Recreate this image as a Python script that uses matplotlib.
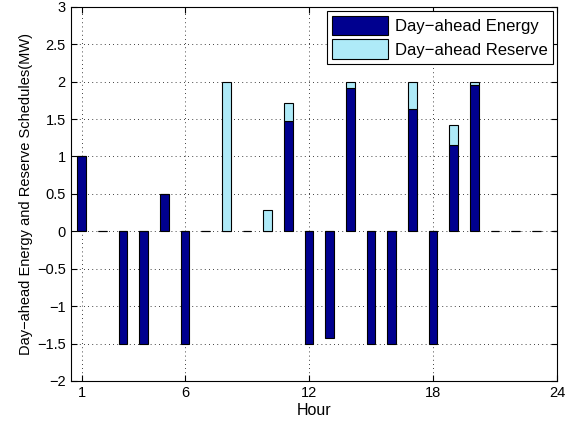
import numpy as np
from matplotlib import pyplot as plt

plt.rcParams['font.family'] = ['Liberation Sans', 'DejaVu Sans']

hours = np.arange(1, 25)
energy = [1.0, 0, -1.5, -1.5, 0.5, -1.5, 0, 0, 0, 0, 1.47, -1.5,
          -1.42, 1.91, -1.5, -1.5, 1.64, -1.5, 1.16, 1.95, 0, 0, 0, 0]
reserve = [0, 0, 0, 0, 0, 0, 0, 2.0, 0, 0.29, 0.24, 0,
           0, 0.09, 0, 0, 0.36, 0, 0.26, 0.05, 0, 0, 0, 0]
xticks = [1, 6, 12, 18, 24]

energy = np.array(energy)
reserve = np.array(reserve)
# reserve is stacked on top of positive energy
base = np.where(energy > 0, energy, 0)

fig = plt.figure(figsize=(5.76, 4.28), dpi=100)
ax = fig.add_axes([0.124, 0.110, 0.843, 0.874])

ax.bar(hours, energy, width=0.42, color='#00008F', edgecolor='black', linewidth=0.8,
       label='Day\u2212ahead Energy', zorder=3)
ax.bar(hours, reserve, width=0.42, bottom=base, color='#AEEAF8', edgecolor='black',
       linewidth=0.8, label='Day\u2212ahead Reserve', zorder=3)

ax.set_xlim(0.5, 24)
ax.set_ylim(-2, 3)
ax.set_xticks(xticks)
ax.set_yticks(np.arange(-2, 3.01, 0.5))
ax.set_yticklabels(['\u22122', '\u22121.5', '\u22121', '\u22120.5', '0', '0.5', '1', '1.5', '2', '2.5', '3'])
ax.tick_params(direction='in', top=True, right=True, labelsize=10.5, length=4, pad=4)
ax.grid(True, linestyle=(0, (1, 4)), color='black', linewidth=0.6, zorder=0)

ax.set_xlabel('Hour', fontsize=11.5, labelpad=2)
ax.set_ylabel('Day\u2212ahead Energy and Reserve Schedules(MW)', fontsize=10.5, labelpad=3)

leg = ax.legend(loc='upper right', fontsize=12, fancybox=False, framealpha=1,
                edgecolor='black', handlelength=3.4, handleheight=1.4,
                borderaxespad=0.25, borderpad=0.3, labelspacing=0.25, handletextpad=0.4)
leg.get_frame().set_linewidth(0.8)

plt.savefig('out.png', dpi=100)
